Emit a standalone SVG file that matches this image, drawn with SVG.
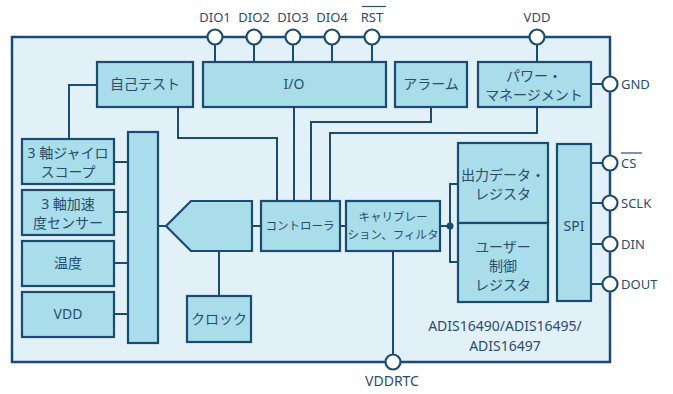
<svg xmlns="http://www.w3.org/2000/svg" width="673" height="394" viewBox="0 0 673 394">
<style>
.blk{fill:#a8dde9;stroke:#1b4a72;stroke-width:2.2}
.ln{fill:none;stroke:#1b4a72;stroke-width:2}
.pin{fill:#ffffff;stroke:#1b4a72;stroke-width:2.2}
text{font-family:"Noto Sans","Noto Sans CJK JP",sans-serif;fill:#2a4d6e;font-size:13px;text-anchor:middle}
.jp{font-size:14px}
.sm{font-size:11.5px}
.lg{font-size:14px}
.lft{text-anchor:start}
</style>
<rect x="12" y="37" width="598" height="325" fill="#e1f1f7" stroke="#1b4a72" stroke-width="2.5"/>
<g id="connectors">
<path class="ln" d="M215 37V62M254 37V62M293 37V62M332 37V62M372 37V62M537 37V62M591 84H610"/>
<path class="ln" d="M97 85H69V139"/>
<path class="ln" d="M178 107V138H277V201"/>
<path class="ln" d="M294 107V201"/>
<path class="ln" d="M431 107V122H311V201"/>
<path class="ln" d="M537 107V133H330V201"/>
<path class="ln" d="M114 162H128M114 212H128M114 263H128M114 314H128"/>
<path class="ln" d="M158 226H166M252 226H261M219 251V296M340 226H346"/>
<path class="ln" d="M440 226H450M458 184H450V262H458"/>
<circle cx="450" cy="226" r="3.5" fill="#1b4a72"/>
<path class="ln" d="M393 251V362"/>
<path class="ln" d="M591 163H610M591 203H610M591 244H610M591 284H610"/>
</g>
<g id="pins">
<circle class="pin" cx="215" cy="37" r="7.5"/>
<circle class="pin" cx="254" cy="37" r="7.5"/>
<circle class="pin" cx="293" cy="37" r="7.5"/>
<circle class="pin" cx="332" cy="37" r="7.5"/>
<circle class="pin" cx="372" cy="37" r="7.5"/>
<circle class="pin" cx="537" cy="37" r="7.5"/>
<circle class="pin" cx="610" cy="84" r="7.5"/>
<circle class="pin" cx="610" cy="163" r="7.5"/>
<circle class="pin" cx="610" cy="203" r="7.5"/>
<circle class="pin" cx="610" cy="244" r="7.5"/>
<circle class="pin" cx="610" cy="284" r="7.5"/>
<circle class="pin" cx="393" cy="362" r="7.5"/>
<text x="215" y="22">DIO1</text>
<text x="254" y="22">DIO2</text>
<text x="293" y="22">DIO3</text>
<text x="332" y="22">DIO4</text>
<text x="372" y="22">RST</text>
<line x1="362" y1="6.5" x2="386" y2="6.5" stroke="#2a4d6e" stroke-width="1.2"/>
<text x="537" y="22">VDD</text>
<text class="lft" x="621" y="89">GND</text>
<text class="lft" x="621" y="168">CS</text>
<line x1="621" y1="153" x2="642" y2="153" stroke="#2a4d6e" stroke-width="1.2"/>
<text class="lft" x="621" y="208">SCLK</text>
<text class="lft" x="621" y="249">DIN</text>
<text class="lft" x="621" y="289">DOUT</text>
<text class="lg" x="392" y="386">VDDRTC</text>
</g>
<g id="selftest"><rect class="blk" x="97" y="62" width="96" height="45"/><text class="jp" x="145" y="89">自己テスト</text></g>
<g id="io"><rect class="blk" x="203" y="62" width="183" height="45"/><text class="lg" x="294" y="89">I/O</text></g>
<g id="alarm"><rect class="blk" x="395" y="62" width="72" height="45"/><text class="jp" x="431" y="89">アラーム</text></g>
<g id="power"><rect class="blk" x="478" y="62" width="113" height="45"/><text class="jp" x="534" y="81">パワー・</text><text class="jp" x="534" y="100">マネージメント</text></g>
<g id="gyro"><rect class="blk" x="22" y="139" width="92" height="45"/><text class="jp" x="68" y="158">3 軸ジャイロ</text><text class="jp" x="68" y="177">スコープ</text></g>
<g id="accel"><rect class="blk" x="22" y="190" width="92" height="45"/><text class="jp" x="68" y="209">3 軸加速</text><text class="jp" x="68" y="228">度センサー</text></g>
<g id="temp"><rect class="blk" x="22" y="241" width="92" height="45"/><text class="jp" x="68" y="268">温度</text></g>
<g id="vdd"><rect class="blk" x="22" y="292" width="92" height="45"/><text class="lg" x="68" y="319">VDD</text></g>
<g id="mux"><rect class="blk" x="128" y="132" width="30" height="211"/></g>
<g id="adc"><path class="blk" d="M166 226L191 201H252V251H191Z"/></g>
<g id="clock"><rect class="blk" x="187" y="296" width="64" height="46"/><text class="jp" x="219" y="324">クロック</text></g>
<g id="controller"><rect class="blk" x="261" y="201" width="79" height="50"/><text class="sm" x="300" y="230">コントローラ</text></g>
<g id="calib"><rect class="blk" x="346" y="201" width="94" height="50"/><text class="sm" x="393" y="221">キャリブレー</text><text class="sm" x="393" y="239">ション、フィルタ</text></g>
<g id="outreg"><rect class="blk" x="458" y="143" width="90" height="80"/><text class="jp" x="503" y="180">出力データ・</text><text class="jp" x="503" y="199">レジスタ</text></g>
<g id="userreg"><rect class="blk" x="458" y="223" width="90" height="79"/><text class="jp" x="503" y="252">ユーザー</text><text class="jp" x="503" y="271">制御</text><text class="jp" x="503" y="290">レジスタ</text></g>
<g id="spi"><rect class="blk" x="557" y="144" width="34" height="157"/><text class="lg" x="574" y="231">SPI</text></g>
<text class="lg" x="505" y="331">ADIS16490/ADIS16495/</text>
<text class="lg" x="505" y="351">ADIS16497</text>
</svg>
